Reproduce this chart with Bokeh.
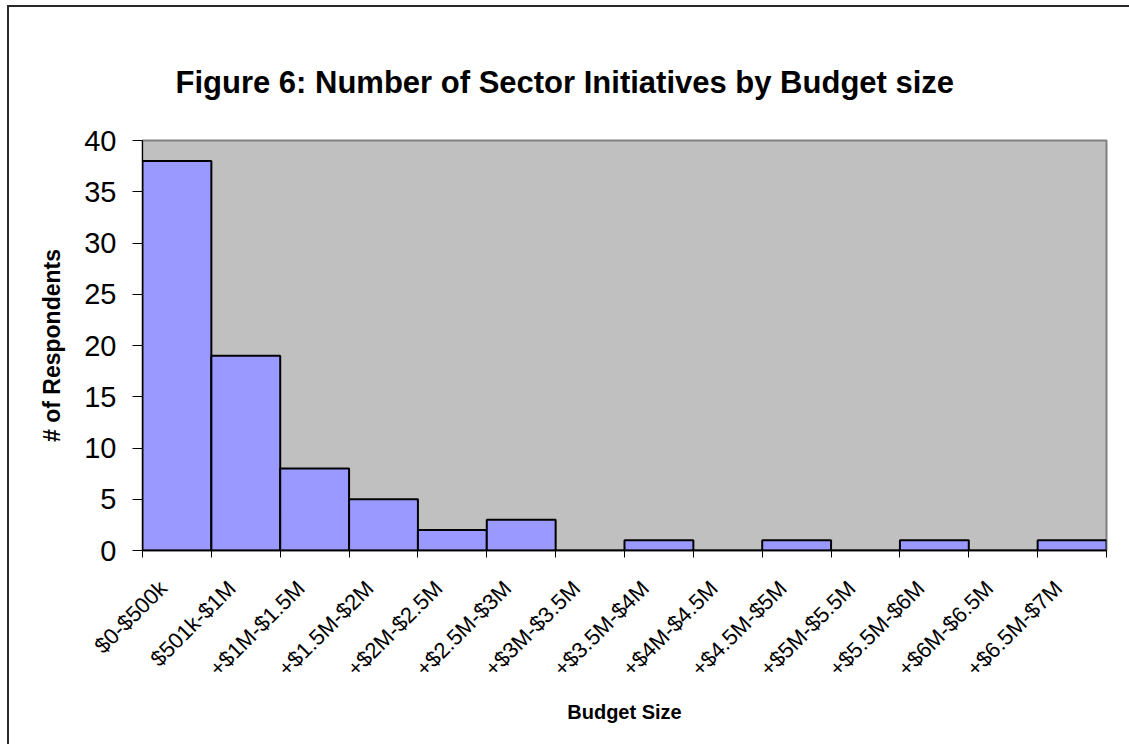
import math
from bokeh.plotting import figure
from bokeh.models import Range1d, FixedTicker, LinearAxis, InlineStyleSheet
from bokeh.embed import file_html
from bokeh.resources import INLINE

categories = ["$0-$500k", "$501k-$1M", "+$1M-$1.5M", "+$1.5M-$2M", "+$2M-$2.5M",
              "+$2.5M-$3M", "+$3M-$3.5M", "+$3.5M-$4M", "+$4M-$4.5M", "+$4.5M-$5M",
              "+$5M-$5.5M", "+$5.5M-$6M", "+$6M-$6.5M", "+$6.5M-$7M"]
respondents = [38, 19, 8, 5, 2, 3, 0, 1, 0, 1, 0, 1, 0, 1]
y_ticks = [0, 5, 10, 15, 20, 25, 30, 35, 40]
title_text = "Figure 6: Number of Sector Initiatives by Budget size"
x_title = "Budget Size"
y_title = "# of Respondents"

FONT = "Liberation Sans"
W, H = 1129, 744

n = len(categories)
centers = [i + 0.5 for i in range(n)]
label_pos = [c - 0.2 for c in centers]   # labels sit slightly left of the bar centre
bounds = [float(i) for i in range(n + 1)]

p = figure(width=W, height=H, output_backend="svg", toolbar_location=None,
           x_range=Range1d(0, n), y_range=Range1d(0, 40),
           x_axis_type=None, y_axis_type=None,
           min_border_left=142, min_border_right=23, min_border_top=140, min_border_bottom=194)

# outer chart border (left and top edges; the reference is cropped on the other sides)
p.border_fill_alpha = 0
p.stylesheets = [InlineStyleSheet(css=(
    ":host { background-color: white;"
    " background-image: linear-gradient(#2a2a2a,#2a2a2a), linear-gradient(#2a2a2a,#2a2a2a);"
    " background-size: 2px 800px, 1200px 2px;"
    " background-position: 7px 5px, 7px 5px;"
    " background-repeat: no-repeat; }"))]

p.background_fill_color = "#C0C0C0"
p.outline_line_color = "#808080"
p.outline_line_width = 2

p.title.text = title_text
p.title.align = "left"
p.title.vertical_align = "top"
p.title.offset = 33
p.title.standoff = 77
p.title.text_font = FONT
p.title.text_font_style = "bold"
p.title.text_font_size = "31px"
p.title.text_color = "black"

p.vbar(x=centers, top=respondents, width=1.0, bottom=0,
       fill_color="#9999FF", line_color="black", line_width=2)

# y axis
yax = LinearAxis(ticker=FixedTicker(ticks=y_ticks))
yax.axis_line_color = "black"
yax.major_tick_in = 0
yax.major_tick_out = 10
yax.minor_tick_out = 0
yax.major_tick_line_color = "black"
yax.major_label_text_font = FONT
yax.major_label_text_font_size = "29px"
yax.major_label_text_color = "black"
yax.major_label_standoff = 16
yax.axis_label = y_title
yax.axis_label_text_font = FONT
yax.axis_label_text_font_style = "bold"
yax.axis_label_text_font_size = "23px"
yax.axis_label_text_color = "black"
yax.axis_label_standoff = 16
p.add_layout(yax, "left")

# x axis: ticks on category boundaries, labels near the centres
xax = LinearAxis(ticker=FixedTicker(ticks=label_pos, minor_ticks=bounds))
xax.major_label_overrides = {c: lab for c, lab in zip(label_pos, categories)}
xax.axis_line_color = "black"
xax.axis_line_width = 1.5
xax.major_tick_in = 0
xax.major_tick_out = 0
xax.minor_tick_in = 0
xax.minor_tick_out = 7
xax.minor_tick_line_color = "black"
xax.major_label_orientation = math.pi / 4
xax.major_label_text_font = FONT
xax.major_label_text_font_size = "22px"
xax.major_label_text_color = "black"
xax.major_label_standoff = 27
xax.axis_label = x_title
xax.axis_label_text_font = FONT
xax.axis_label_text_font_style = "bold"
xax.axis_label_text_font_size = "20px"
xax.axis_label_text_color = "black"
xax.axis_label_standoff = 8
p.add_layout(xax, "below")

p.xgrid.visible = False
p.ygrid.ticker = FixedTicker(ticks=y_ticks)
p.ygrid.grid_line_color = "black"
p.ygrid.grid_line_width = 1

open("out.html", "w").write(file_html(p, INLINE))
